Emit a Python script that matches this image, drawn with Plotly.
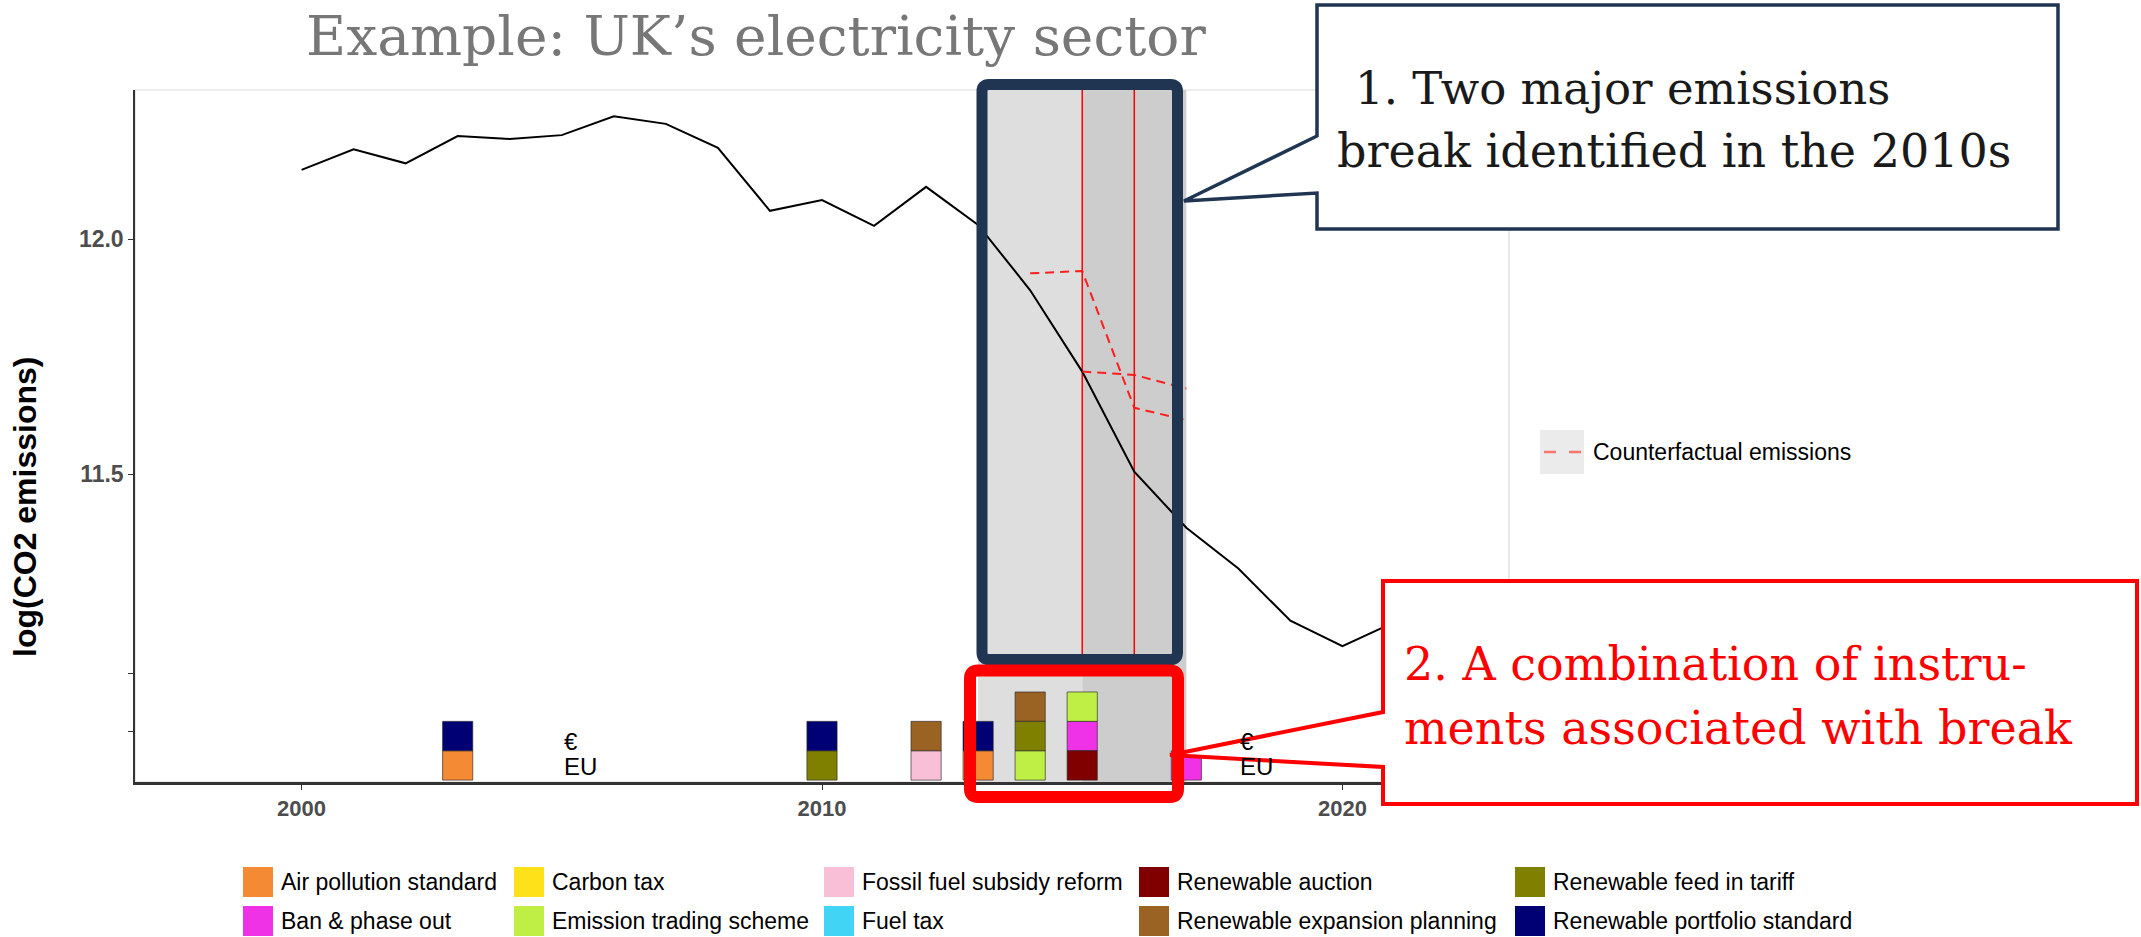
import plotly.graph_objects as go

# ---------------- data ----------------
years = list(range(2000, 2022))
co2 = [12.147, 12.191, 12.161, 12.219, 12.213, 12.221, 12.261, 12.245, 12.194, 12.060,
       12.083, 12.028, 12.111, 12.030, 11.891, 11.718, 11.505, 11.386, 11.299, 11.188,
       11.134, 11.185]

cf1_years = [2014, 2015, 2016, 2017]
cf1_vals = [11.927, 11.932, 11.641, 11.615]
cf2_years = [2015, 2016, 2017]
cf2_vals = [11.718, 11.711, 11.682]

break_years = [2015, 2016]
shade_spans = [(2013, 2015), (2015, 2017)]
shade_colors = ["#DEDEDE", "#CDCDCD"]

inst_year = [2003, 2003, 2010, 2010, 2012, 2012, 2013, 2013,
             2014, 2014, 2014, 2015, 2015, 2015, 2017]
inst_type = ["Air pollution standard", "Renewable portfolio standard",
             "Renewable feed in tariff", "Renewable portfolio standard",
             "Fossil fuel subsidy reform", "Renewable expansion planning",
             "Air pollution standard", "Renewable portfolio standard",
             "Emission trading scheme", "Renewable feed in tariff", "Renewable expansion planning",
             "Renewable auction", "Ban & phase out", "Emission trading scheme",
             "Ban & phase out"]

eu_years = [2005, 2018]

categories = ["Air pollution standard", "Ban & phase out", "Carbon tax",
              "Emission trading scheme", "Fossil fuel subsidy reform", "Fuel tax",
              "Renewable auction", "Renewable expansion planning",
              "Renewable feed in tariff", "Renewable portfolio standard"]
cat_colors = ["#F58A35", "#F032E6", "#FFE119", "#BFEF45", "#F9BFD6", "#42D4F4",
              "#800000", "#9A6324", "#808000", "#000075"]

x_ticks = [2000, 2010, 2020]
y_tickvals = [10.952, 11.075, 11.5, 12.0]
y_ticktext = ["", "", "11.5", "12.0"]

# ---------------- layout helpers ----------------
W, H = 2141, 937
L, R, T, B = 135, 632, 90, 155
PW = W - L - R
PH = H - T - B


def px(x):
    return (x - L) / PW


def py(y):
    return (H - B - y) / PH


def path_from(points, close=True):
    s = "M " + " L ".join(f"{px(x):.5f},{py(y):.5f}" for x, y in points)
    return s + (" Z" if close else "")


def rrect(x0, y0, x1, y1, r):
    P = lambda x, y: f"{px(x):.5f},{py(y):.5f}"
    return (f"M {P(x0 + r, y0)} L {P(x1 - r, y0)} Q {P(x1, y0)} {P(x1, y0 + r)} "
            f"L {P(x1, y1 - r)} Q {P(x1, y1)} {P(x1 - r, y1)} L {P(x0 + r, y1)} "
            f"Q {P(x0, y1)} {P(x0, y1 - r)} L {P(x0, y0 + r)} Q {P(x0, y0)} {P(x0 + r, y0)} Z")


SERIF = "DejaVu Serif, Georgia, serif"
SANS = "Liberation Sans, Arial, sans-serif"

fig = go.Figure()

# instrument squares (stacked per year)
sq_w, sq_h, sq_base = 0.58, 0.0625, 10.849
level = {}
pos_base = []
for yr in inst_year:
    k = level.get(yr, 0)
    pos_base.append(sq_base + k * sq_h)
    level[yr] = k + 1

for cat, col in zip(categories, cat_colors):
    idx = [i for i, t in enumerate(inst_type) if t == cat]
    if not idx:
        continue
    fig.add_trace(go.Bar(
        x=[inst_year[i] for i in idx],
        y=[sq_h] * len(idx),
        base=[pos_base[i] for i in idx],
        width=sq_w,
        marker=dict(color=col, line=dict(color="rgba(40,40,40,0.65)", width=1)),
        name=cat, showlegend=False, hoverinfo="skip"))

# emissions line
fig.add_trace(go.Scatter(x=years, y=co2, mode="lines",
                         line=dict(color="black", width=2), showlegend=False))
# counterfactuals
for xs, ys in [(cf1_years, cf1_vals), (cf2_years, cf2_vals)]:
    fig.add_trace(go.Scatter(x=xs, y=ys, mode="lines",
                             line=dict(color="rgba(255,20,20,0.95)", width=2, dash="9px,6px"),
                             showlegend=False))

shapes = []
# panel border (light grey)
shapes.append(dict(type="rect", xref="paper", yref="paper", x0=0, x1=1, y0=0, y1=1,
                   line=dict(color="#D9D9D9", width=1.2), layer="below"))
# shading
for (a, b), c in zip(shade_spans, shade_colors):
    shapes.append(dict(type="rect", xref="x", yref="paper", x0=a, x1=b, y0=0, y1=1,
                       fillcolor=c, line=dict(width=0), layer="below"))
# break lines
for by in break_years:
    shapes.append(dict(type="line", xref="x", yref="paper", x0=by, x1=by, y0=py(657), y1=1,
                       line=dict(color="#FF0000", width=1.5), layer="below"))

# navy highlight box
shapes.append(dict(type="path", xref="paper", yref="paper",
                   path=rrect(982, 84.5, 1177.5, 659.5, 7),
                   line=dict(color="#1F3552", width=11), layer="above"))
# red highlight box
shapes.append(dict(type="path", xref="paper", yref="paper",
                   path=rrect(970, 670.5, 1178, 797, 8),
                   line=dict(color="#FF0000", width=12), layer="above"))
# callout 1
shapes.append(dict(type="path", xref="paper", yref="paper",
                   path=path_from([(1317, 5), (2058, 5), (2058, 229), (1317, 229), (1317, 193),
                                   (1184, 201), (1317, 136)]),
                   fillcolor="white", line=dict(color="#1F3552", width=3.5), layer="above"))
# callout 2
shapes.append(dict(type="path", xref="paper", yref="paper",
                   path=path_from([(1383, 581), (2137, 581), (2137, 804), (1383, 804), (1383, 767),
                                   (1170, 755), (1383, 712)]),
                   fillcolor="white", line=dict(color="#FF0000", width=4), layer="above"))

# counterfactual legend key
shapes.append(dict(type="rect", xref="paper", yref="paper",
                   x0=px(1540), x1=px(1584), y0=py(474), y1=py(430),
                   fillcolor="#EBEBEB", line=dict(width=0), layer="above"))
shapes.append(dict(type="line", xref="paper", yref="paper",
                   x0=px(1544), x1=px(1581), y0=py(452), y1=py(452),
                   line=dict(color="#F8766D", width=2.5, dash="12px,13px"), layer="above"))

annotations = []
# instrument legend (manual, 2 rows x 5 columns)
col_x = [243, 514, 824, 1139, 1515]
row_y = [882, 921]
for i, (cat, col) in enumerate(zip(categories, cat_colors)):
    c, r = i // 2, i % 2
    x0, yc = col_x[c], row_y[r]
    shapes.append(dict(type="rect", xref="paper", yref="paper",
                       x0=px(x0), x1=px(x0 + 30), y0=py(yc + 15), y1=py(yc - 15),
                       fillcolor=col, line=dict(width=0), layer="above"))
    annotations.append(dict(text=cat, xref="paper", yref="paper", x=px(x0 + 36), y=py(yc),
                            xanchor="left", yanchor="middle", showarrow=False,
                            font=dict(family=SANS, size=23, color="black")))

annotations.append(dict(text="Counterfactual emissions", xref="paper", yref="paper",
                        x=px(1591), y=py(452), xanchor="left", yanchor="middle", showarrow=False,
                        font=dict(family=SANS, size=23, color="black")))

# EU markers
for ey in eu_years:
    annotations.append(dict(text="€", xref="x", yref="paper", x=ey, y=py(741),
                            xanchor="left", yanchor="middle", showarrow=False,
                            font=dict(family=SANS, size=24, color="black")))
    annotations.append(dict(text="EU", xref="x", yref="paper", x=ey, y=py(766),
                            xanchor="left", yanchor="middle", showarrow=False,
                            font=dict(family=SANS, size=24, color="black")))

# title
annotations.append(dict(text="Example: UK’s electricity sector", xref="paper", yref="paper",
                        x=px(756), y=py(36), xanchor="center", yanchor="middle", showarrow=False,
                        font=dict(family=SERIF, size=55, color="#777777")))
# callout texts
annotations.append(dict(text="1. Two major emissions", xref="paper", yref="paper",
                        x=px(1353), y=py(88), xanchor="left", yanchor="middle", showarrow=False,
                        font=dict(family=SERIF, size=45, color="#1A1A1A")))
annotations.append(dict(text="break identified in the 2010s", xref="paper", yref="paper",
                        x=px(1335), y=py(151), xanchor="left", yanchor="middle", showarrow=False,
                        font=dict(family=SERIF, size=46, color="#1A1A1A")))
annotations.append(dict(text="2. A combination of instru-", xref="paper", yref="paper",
                        x=px(1402), y=py(664), xanchor="left", yanchor="middle", showarrow=False,
                        font=dict(family=SERIF, size=46, color="#FF0000")))
annotations.append(dict(text="ments associated with break", xref="paper", yref="paper",
                        x=px(1402), y=py(728), xanchor="left", yanchor="middle", showarrow=False,
                        font=dict(family=SERIF, size=46, color="#FF0000")))
# y axis title
annotations.append(dict(text="log(CO2 emissions)", xref="paper", yref="paper",
                        x=px(25), y=py(507), xanchor="center", yanchor="middle", showarrow=False,
                        textangle=-90,
                        font=dict(family=SANS, size=32, color="black", weight="bold")))

fig.update_layout(
    width=W, height=H,
    margin=dict(l=L, r=R, t=T, b=B, pad=0),
    paper_bgcolor="white", plot_bgcolor="white",
    barmode="overlay",
    showlegend=False,
    shapes=shapes,
    annotations=annotations,
    xaxis=dict(range=[1996.8, 2023.2], tickvals=x_ticks, ticktext=[str(v) for v in x_ticks],
               showgrid=False, zeroline=False, showline=True, linecolor="#333333", linewidth=2.5,
               ticks="outside", ticklen=5, tickcolor="#333333", tickwidth=1,
               tickfont=dict(family=SANS, size=22, color="#4D4D4D", weight="bold")),
    yaxis=dict(range=[10.845, 12.317], tickvals=y_tickvals, ticktext=y_ticktext,
               showgrid=False, zeroline=False, showline=True, linecolor="#333333", linewidth=1.5,
               ticks="outside", ticklen=5, tickcolor="#333333", tickwidth=1,
               tickfont=dict(family=SANS, size=23, color="#4D4D4D", weight="bold")),
)

fig.write_html("out.html", config={"displayModeBar": False},
               post_script="document.body.style.margin='0px';document.body.style.overflow='hidden';")
